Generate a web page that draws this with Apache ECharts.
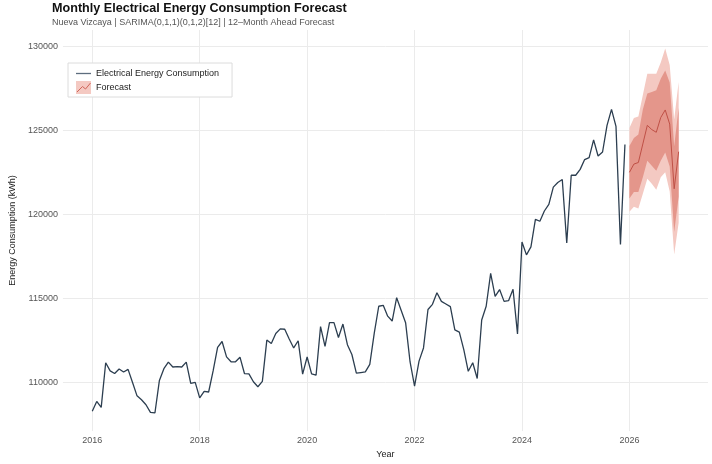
<!DOCTYPE html>
<html lang="en">
<head>
  <meta charset="UTF-8">
  <title>Monthly Electrical Energy Consumption Forecast</title>
  <script src="https://cdn.jsdelivr.net/npm/echarts@6/dist/echarts.min.js"></script>
  <style>
    * { margin: 0; padding: 0; }
    body { background: #fff; }
    #chart { width: 712px; height: 464px; }
  </style>
</head>
<body>
  <div id="chart"></div>
  <script>
    // monthly history, Jan 2016 .. Dec 2025 (kWh)
    const startYear = 2016;
    const history = [
      108257, 108845, 108490, 111155, 110665, 110510, 110780, 110605, 110760, 109980, 109180, 108945,
      108650, 108200, 108160, 110100, 110800, 111190, 110900, 110920, 110900, 111190, 109920, 109980,
      109060, 109450, 109410, 110665, 112070, 112420, 111505, 111210, 111210, 111485, 110510, 110490,
      110020, 109725, 110040, 112505, 112305, 112895, 113170, 113150, 112565, 112035, 112465, 110470,
      111495, 110490, 110410, 113305, 112130, 113540, 113540, 112660, 113460, 112230, 111645, 110530,
      110570, 110605, 111055, 112915, 114520, 114575, 113930, 113640, 115030, 114285, 113540, 111200,
      109765, 111250, 112035, 114325, 114635, 115320, 114810, 114655, 114500, 113110, 112975, 111935,
      110645, 111155, 110215, 113700, 114520, 116475, 115105, 115515, 114810, 114850, 115535, 112875,
      118350, 117580, 118060, 119700, 119585, 120195, 120585, 121620, 121895, 122070, 118290, 122325,
      122325, 122675, 123260, 123380, 124435, 123475, 123710, 125295, 126250, 125235, 118195, 124160
    ];

    // 12-month forecast, Jan 2026 .. Dec 2026
    const forecastMean = [122500, 122990, 123085, 124190, 125300, 125045, 124885, 125765, 126215, 125375, 121520, 123730];
    const lo80 = [120935, 121330, 121330, 122205, 123185, 122890, 122600, 123185, 123675, 122850, 118950, 121050];
    const hi80 = [124065, 124550, 124750, 126250, 127195, 127290, 127390, 128075, 128565, 127850, 124050, 126350];
    const lo95 = [120150, 120450, 120350, 121230, 122110, 121815, 121460, 122205, 122500, 121350, 117610, 119500];
    const hi95 = [125140, 125730, 125830, 127100, 128370, 128370, 128370, 129050, 129875, 128900, 125650, 127880];

    const yTicks = [110000, 115000, 120000, 125000, 130000];
    const xTicks = [2016, 2018, 2020, 2022, 2024, 2026];

    const fcStart = startYear + history.length / 12;

    const histData = history.map((v, i) => [startYear + i / 12, v]);
    const fcX = i => fcStart + i / 12;
    const pts = arr => arr.map((v, i) => [fcX(i), v]);

    const chart = echarts.init(document.getElementById('chart'));

    // ribbon between lower and upper bounds, one polygon per band
    function band(name, lower, upper, color) {
      return {
        name: name,
        type: 'custom',
        silent: true,
        clip: true,
        data: pts(forecastMean),
        encode: { x: 0, y: 1 },
        renderItem: (params, api) => {
          if (params.dataIndex !== 0) return;
          const top = upper.map((v, i) => api.coord([fcX(i), v]));
          const bot = lower.map((v, i) => api.coord([fcX(i), v])).reverse();
          return {
            type: 'polygon',
            shape: { points: top.concat(bot) },
            style: { fill: color }
          };
        }
      };
    }

    const option = {
      animation: false,
      textStyle: { fontFamily: '"Liberation Sans", Arial, sans-serif' },
      title: {
        text: 'Monthly Electrical Energy Consumption Forecast',
        subtext: 'Nueva Vizcaya | SARIMA(0,1,1)(0,1,2)[12] | 12\u2013Month Ahead Forecast',
        left: 47,
        top: 2,
        padding: [0, 5, 0, 5],
        itemGap: 3,
        textStyle: { fontSize: 12.6, fontWeight: 'bold', color: '#111' },
        subtextStyle: { fontSize: 9, color: '#555' }
      },
      legend: {
        orient: 'vertical',
        left: 68,
        top: 63,
        padding: [4, 13, 3, 8],
        itemWidth: 15,
        itemHeight: 13,
        itemGap: 1,
        backgroundColor: '#fff',
        borderColor: '#dcdcdc',
        borderWidth: 1,
        textStyle: { fontSize: 9, color: '#222' },
        data: [
          { name: 'Electrical Energy Consumption', icon: 'rect', itemStyle: { color: 'rgba(0,0,0,0)' } },
          { name: 'Forecast', icon: 'rect', itemStyle: { color: '#f4c9c2' } }
        ]
      },
      grid: { left: 52, right: 4, top: 30, bottom: 27 },
      xAxis: {
        type: 'value',
        min: 2015.454,
        max: 2027.463,
        name: 'Year',
        nameLocation: 'middle',
        nameGap: 15,
        nameTextStyle: { fontSize: 9, color: '#222' },
        axisLine: { show: false },
        axisTick: { show: false },
        axisLabel: {
          fontSize: 9, color: '#555', margin: 5,
          showMinLabel: false, showMaxLabel: false,
          formatter: v => (xTicks.includes(v) ? String(v) : '')
        },
        splitLine: { show: true, showMinLine: false, showMaxLine: false, lineStyle: { color: '#ebebeb', width: 1 } }
      },
      yAxis: {
        type: 'value',
        min: 107080,
        max: 130980,
        name: 'Energy Consumption (kWh)',
        nameLocation: 'middle',
        nameGap: 44,
        nameTextStyle: { fontSize: 9, color: '#222' },
        axisLine: { show: false },
        axisTick: { show: false },
        axisLabel: {
          fontSize: 9, color: '#555', margin: 5,
          showMinLabel: false, showMaxLabel: false,
          formatter: v => (yTicks.includes(v) ? String(v) : '')
        },
        splitLine: { show: true, showMinLine: false, showMaxLine: false, lineStyle: { color: '#ebebeb', width: 1 } }
      },
      series: [
        band('95% interval', lo95, hi95, '#f4c9c2'),
        band('80% interval', lo80, hi80, '#e4968b'),
        {
          name: 'Electrical Energy Consumption',
          type: 'line',
          symbol: 'none',
          data: histData,
          lineStyle: { color: '#2c3e50', width: 1.3 },
          itemStyle: { color: '#2c3e50' }
        },
        {
          name: 'Forecast',
          type: 'line',
          symbol: 'none',
          data: pts(forecastMean),
          lineStyle: { color: '#bf5046', width: 1 },
          itemStyle: { color: '#bf5046' }
        }
      ],
      graphic: [
        {
          // key line for the history entry
          type: 'line',
          silent: true,
          z: 100,
          shape: { x1: 76, y1: 73.5, x2: 91, y2: 73.5 },
          style: { stroke: '#5d6d7e', lineWidth: 1.3 }
        },
        {
          // zigzag drawn on the Forecast legend key
          type: 'polyline',
          silent: true,
          z: 100,
          shape: { points: [[77, 92], [82.5, 86.5], [85.5, 89], [90.5, 83]] },
          style: { stroke: '#d0665a', lineWidth: 1, fill: null }
        }
      ]
    };

    chart.setOption(option);
  </script>
</body>
</html>
